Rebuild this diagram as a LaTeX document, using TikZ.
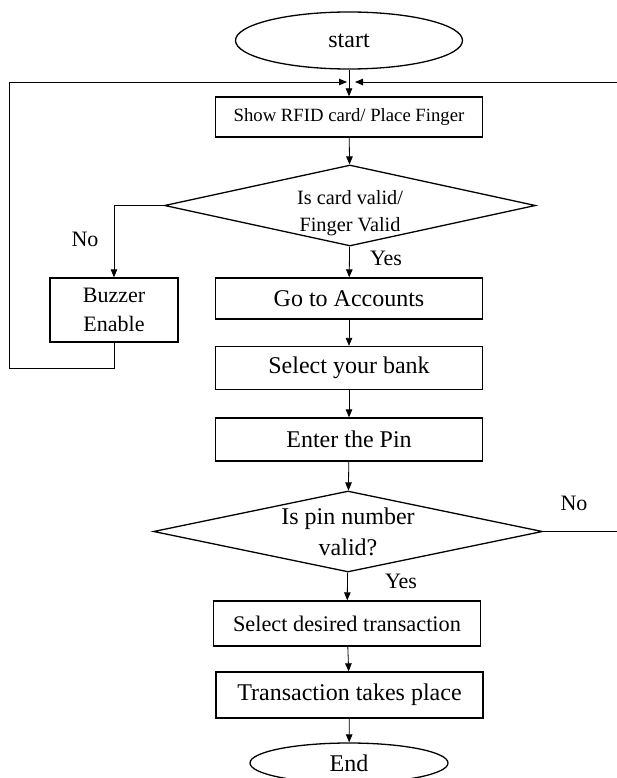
\documentclass[tikz,border=0pt]{standalone}
\usepackage{fontspec}
\setmainfont{Liberation Serif}
\usetikzlibrary{positioning,arrows.meta,shapes.geometric}

\begin{document}
\begin{tikzpicture}[
		x=1pt, y=-1pt,
		font=\fontsize{24}{31}\selectfont,
		box/.style={draw, line width=1.3pt, minimum width=267pt, minimum height=43pt, inner sep=0pt, align=center},
		term/.style={draw, ellipse, line width=1.3pt, inner sep=0pt},
		test/.style={draw, diamond, line width=1.3pt, inner sep=-8pt, align=center},
		lbl/.style={font=\fontsize{22}{26}\selectfont, inner sep=0pt},
		arr/.style={-{Triangle[length=8pt,width=6.5pt]}, line width=0.8pt}
		]
		\useasboundingbox (0,0) rectangle (616,778);
		\node[term, minimum width=227pt, minimum height=57pt] (start) at (349,40.5) {start};
		\node[box, minimum height=40pt, font=\fontsize{18.7}{22}\selectfont] (show) at (349,117)
		{Show RFID card/ Place Finger};
		\node[test, shape aspect=4.6, minimum width=371pt, minimum height=81pt, font=\fontsize{20.3}{27}\selectfont] (valid) at (350,205.5)
		{\rule{0pt}{30pt}Is card valid/\\Finger Valid};
		\node[box, minimum width=128pt, minimum height=64pt, font=\fontsize{22}{29}\selectfont] (buzz) at (114,310)
		{Buzzer\\Enable};
		\node[box, minimum height=41pt] (acc) at (349,298.5) {Go to Accounts};
		\node[box] (bank) at (349,368) {Select your bank};
		\node[box] (pin) at (349,439.5) {Enter the Pin};
		\node[test, shape aspect=4.8, minimum width=389pt, minimum height=81pt] (pinok) at (348,531.5)
		{Is pin number\\valid?};
		\node[box, minimum height=45pt, font=\fontsize{22.3}{26}\selectfont] (trans) at (347,623.5)
		{Select desired transaction};
		\node[box, minimum height=46pt] (done) at (349.5,695) {Transaction takes place};
		\node[term, minimum width=198pt, minimum height=40pt] (finish) at (349,763) {End};
		\node[lbl] (no1) at (85,239) {No};
		\node[lbl] (yes1) at (386,258) {Yes};
		\node[lbl] (no2) at (574,503) {No};
		\node[lbl] (yes2) at (401,581) {Yes};
		\coordinate (top) at (349,82);
		\coordinate (lcorner) at (9,82);
		\coordinate (rcorner) at (640,82);
		\draw[arr] (start) -- (show);
		\draw[arr] (show) -- (valid);
		\draw[arr] (valid.west) -| (buzz.north);
		\draw[arr] (buzz.south) -- ++(0,26) -| (lcorner) -- ([xshift=-2pt]top);
		\draw[arr] (pinok.east) -| (rcorner) -- ([xshift=6pt]top);
		\draw[arr] (valid) -- (acc);
		\draw[arr] (acc) -- (bank);
		\draw[arr] (bank) -- (pin);
		\draw[arr] (pin) -- (pinok);
		\draw[arr] (pinok) -- (trans);
		\draw[arr] (trans) -- (done);
		\draw[arr] (done) -- (finish);
	\end{tikzpicture}
\end{document}
